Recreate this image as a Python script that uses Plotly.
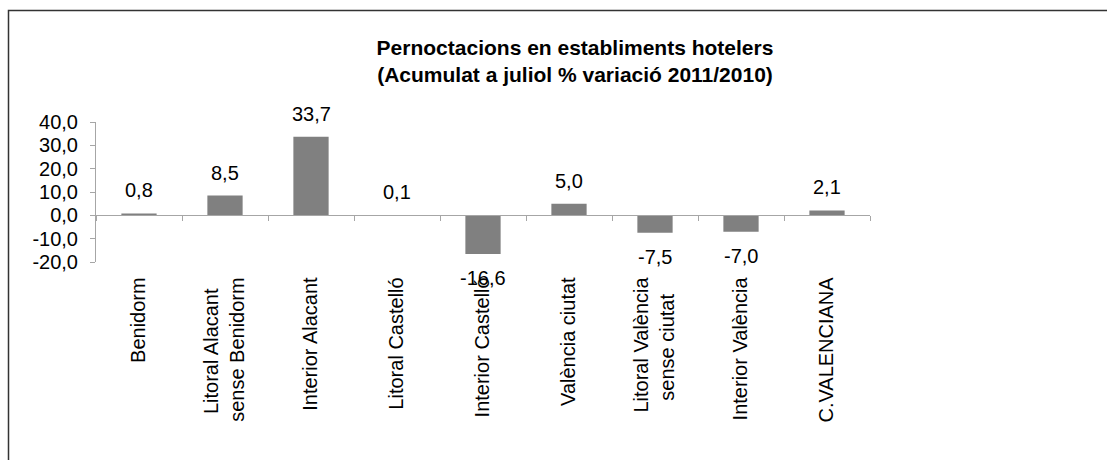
import plotly.graph_objects as go

categories = ["Benidorm", "Litoral Alacant sense Benidorm", "Interior Alacant",
              "Litoral Castelló", "Interior Castelló", "València ciutat",
              "Litoral València sense ciutat", "Interior València", "C.VALENCIANA"]
# tick labels as wrapped (centred lines, padded with no-break spaces)
x_tick_labels = ["Benidorm", "Litoral Alacant\u00a0\u00a0<br>sense Benidorm", "Interior Alacant",
                 "Litoral Castelló", "Interior Castelló", "València ciutat",
                 "Litoral València<br>sense ciutat\u00a0\u00a0\u00a0", "Interior València", "C.VALENCIANA"]
values = [0.8, 8.5, 33.7, 0.1, -16.6, 5.0, -7.5, -7.0, 2.1]
y_ticks = [-20, -10, 0, 10, 20, 30, 40]
y_tick_labels = ["-20,0", "-10,0", "0,0", "10,0", "20,0", "30,0", "40,0"]
title_lines = ["Pernoctacions en establiments hotelers",
               "(Acumulat a juliol % variació 2011/2010)"]

W, H = 1107, 460
L, R, T, B = 96, 870, 122, 262  # plot area pixels
ymin, ymax = -20, 40

fig = go.Figure()
fig.add_trace(go.Bar(x=categories, y=values, marker=dict(color="#808080", line=dict(width=0)),
                     showlegend=False, hoverinfo="skip"))

font = dict(family="Liberation Sans, Arial, sans-serif", size=20, color="#000000")

for c, v in zip(categories, values):
    fig.add_annotation(x=c, y=v, text=f"{v:.1f}".replace(".", ","), showarrow=False,
                       yshift=23 if v >= 0 else -24, font=font)

def px_x(p):
    return (p - L) / (R - L)

def px_y(p):
    return (B - p) / (B - T)

fig.add_shape(type="path", xref="paper", yref="paper",
              path=f"M {px_x(8.5)} {px_y(470)} L {px_x(8.5)} {px_y(10.5)} L {px_x(1120)} {px_y(10.5)}",
              line=dict(color="#333333", width=1.5))

fig.update_layout(
    width=W, height=H,
    margin=dict(l=L, r=W - R, t=T, b=H - B, pad=0),
    paper_bgcolor="white", plot_bgcolor="white",
    bargap=0.59,
    font=font,
    title=dict(text="<b>" + "<br>".join(title_lines) + "</b>", x=575 / W, xref="container",
               xanchor="center", y=1 - 55 / H, yanchor="middle", yref="container",
               font=dict(family="Liberation Sans, Arial, sans-serif", size=21, color="#000000")),
    xaxis=dict(type="category", anchor="free", position=(0 - ymin) / (ymax - ymin),
               categoryorder="array", categoryarray=categories,
               tickmode="array", tickvals=categories, ticktext=x_tick_labels,
               showline=True, linecolor="#A6A6A6", linewidth=1,
               ticks="outside", ticklen=5, tickcolor="#A6A6A6", tickson="boundaries",
               tickangle=-90, ticklabelstandoff=53, showgrid=False, zeroline=False,
               tickfont=font),
    yaxis=dict(range=[ymin, ymax], tickvals=y_ticks, ticktext=y_tick_labels,
               showline=True, linecolor="#A6A6A6", linewidth=1,
               ticks="outside", ticklen=5, tickcolor="#A6A6A6", ticklabelstandoff=8,
               showgrid=False, zeroline=False, tickfont=font),
)

fig.write_html("out.html", post_script="document.body.style.margin='0';",
               config={"displayModeBar": False, "staticPlot": True})
